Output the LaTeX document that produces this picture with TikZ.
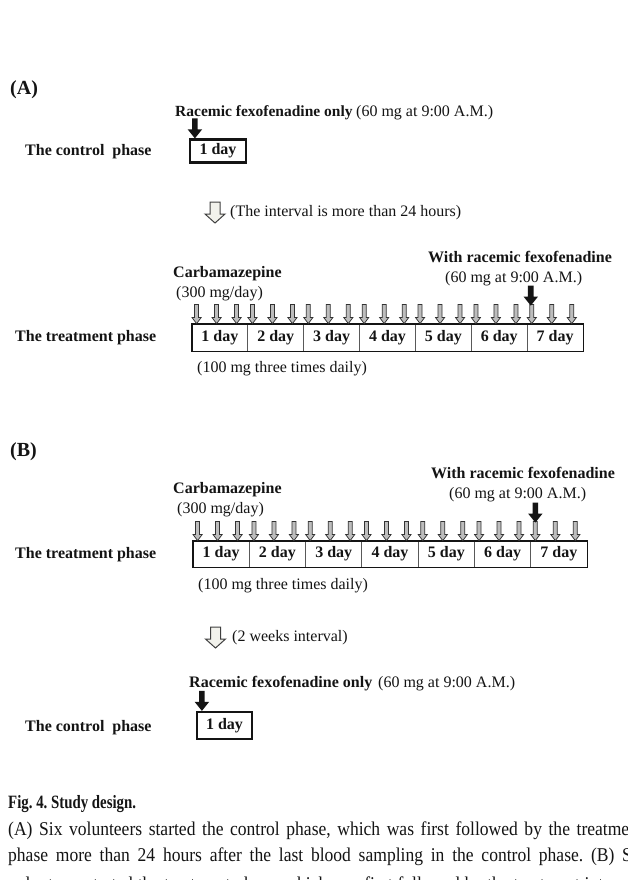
\documentclass[tikz,border=0pt]{standalone}
\usepackage{fontspec}
\setmainfont{Liberation Serif}
\usetikzlibrary{calc}
\frenchspacing
\newcommand{\fsz}{\fontsize{16}{19}\selectfont}
\newcommand{\capsz}{\fontsize{19.5}{23}\selectfont}
\newcommand{\capline}[2]{\scalebox{0.9}[1]{\makebox[#1][s]{#2}}}
\definecolor{inkc}{HTML}{141414}
\definecolor{garrowfill}{HTML}{BDBDBD}
\definecolor{harrowfill}{HTML}{F2F2EC}
\tikzset{
  bl/.style={anchor=base west, inner sep=0pt, font=\fsz\bfseries, text=inkc},
  rl/.style={anchor=base west, inner sep=0pt, font=\fsz, text=inkc},
  panel/.style={anchor=base west, inner sep=0pt, font=\fontsize{20}{24}\selectfont\bfseries, text=inkc},
  capl/.style={anchor=base west, inner sep=0pt, font=\capsz, text=inkc},
  daycell/.style={draw=black!65, line width=0.8pt, inner sep=0pt, minimum height=27pt, font=\fsz\bfseries, text=inkc},
  ctrlbox/.style={draw=inkc, line width=2.2pt, inner sep=0pt, font=\fsz\bfseries, text=inkc},
  garrow/.pic={\filldraw[fill=garrowfill, draw=black!80, line width=0.75pt, line join=miter]
     (-2,-19) -- (2,-19) -- (2,-6) -- (4.5,-6) -- (0,0) -- (-4.5,-6) -- (-2,-6) -- cycle;},
  barrow/.pic={\fill[inkc]
     (-2.8,-20) -- (2.8,-20) -- (2.8,-9) -- (7.2,-9) -- (0,0) -- (-7.2,-9) -- (-2.8,-9) -- cycle;},
  harrow/.pic={\filldraw[fill=harrowfill, draw=black!75, line width=1pt, line join=miter]
     (-5,-21) -- (5,-21) -- (5,-9) -- (10,-9) -- (0,0) -- (-10,-9) -- (-5,-9) -- cycle;}
}
\begin{document}
\begin{tikzpicture}[x=1pt,y=-1pt]
\useasboundingbox (0,0) rectangle (627,880);
\clip (0,0) rectangle (627,880);
\fill[white] (0,0) rectangle (627,880);

% ---------------- Panel A ----------------
\node[panel] (pA) at (10,95) {(A)};
\node[bl, font=\fontsize{15.5}{19}\selectfont\bfseries] (ra1) at (175,117) {Racemic fexofenadine only};
\node[rl] (ra1d) at (356,117) {(60 mg at 9:00 A.M.)};
\node[bl] (ctlA) at (25,155) {The control\ \ phase};
\node[ctrlbox, minimum width=56pt, minimum height=23pt] (cA) at (218,151) {1 day};
\pic at (cA.north west) [xshift=6pt] {barrow};

\pic at (215,223) {harrow};
\node[rl] (intA) at (230,216) {(The interval is more than 24 hours)};

\node[bl] (cbzA) at (173,277) {Carbamazepine};
\node[rl] (cbzdA) at (176,297) {(300 mg/day)};
\node[bl] (wrA) at (428,262) {With racemic fexofenadine};
\node[rl] (wrdA) at (445,282) {(60 mg at 9:00 A.M.)};
\node[bl] (trA) at (15,341) {The treatment phase};

\foreach \i in {1,...,7}
  \node[daycell, minimum width=55.86pt] (a\i) at ({192+55.86*(\i-0.5)},337.5) {\i\ day};
\draw[inkc, line width=1.8pt] (a1.north west) rectangle (a7.south east);
\foreach \i in {1,...,7}
  \foreach \k in {0,1,2}
    \pic at ($(a\i.north west)+({5+20*\k},0)$) {garrow};
\pic at ($(a7.north west)+(4,-18)$) {barrow};
\node[rl] (tdA) at (197,372) {(100 mg three times daily)};

% ---------------- Panel B ----------------
\node[panel] (pB) at (10,456) {(B)};
\node[bl] (cbzB) at (173,493) {Carbamazepine};
\node[rl] (cbzdB) at (177,513) {(300 mg/day)};
\node[bl] (wrB) at (431,478) {With racemic fexofenadine};
\node[rl] (wrdB) at (449,498) {(60 mg at 9:00 A.M.)};
\node[bl] (trB) at (15,558) {The treatment phase};

\foreach \i in {1,...,7}
  \node[daycell, minimum width=56.29pt, minimum height=26pt] (b\i) at ({193+56.29*(\i-0.5)},554) {\i\ day};
\draw[inkc, line width=1.8pt] (b1.north west) rectangle (b7.south east);
\foreach \i in {1,...,7}
  \foreach \k in {0,1,2}
    \pic at ($(b\i.north west)+({5+20*\k},0)$) {garrow};
\pic at ($(b7.north west)+(5,-18)$) {barrow};
\node[rl] (tdB) at (198,589) {(100 mg three times daily)};

\pic at (215.5,648) {harrow};
\node[rl] (intB) at (232,641) {(2 weeks interval)};

\node[bl] (rb1) at (189,687) {Racemic fexofenadine only};
\node[rl] (rb1d) at (378,687) {(60 mg at 9:00 A.M.)};
\node[bl] (ctlB) at (25,731) {The control\ \ phase};
\node[ctrlbox, minimum width=55pt, minimum height=27pt] (cB) at (224.5,725.5) {1 day};
\pic at (cB.north west) [xshift=6pt] {barrow};

% ---------------- Caption ----------------
\node[capl] (cap0) at (8,808) {\scalebox{0.79}[1]{\fontsize{18.8}{23}\selectfont\bfseries Fig. 4. Study design.}};
\node[capl] (cap1) at (8,835) {\capline{690pt}{(A) Six volunteers started the control phase, which was first followed by the treatme}};
\node[capl] (cap2) at (8,861.5) {\capline{693pt}{phase more than 24 hours after the last blood sampling in the control phase. (B) S}};
\node[capl] (cap3) at (8,890) {\capline{700pt}{volunteers started the treatment phase, which was first followed by the treatment interval}};
\end{tikzpicture}
\end{document}
